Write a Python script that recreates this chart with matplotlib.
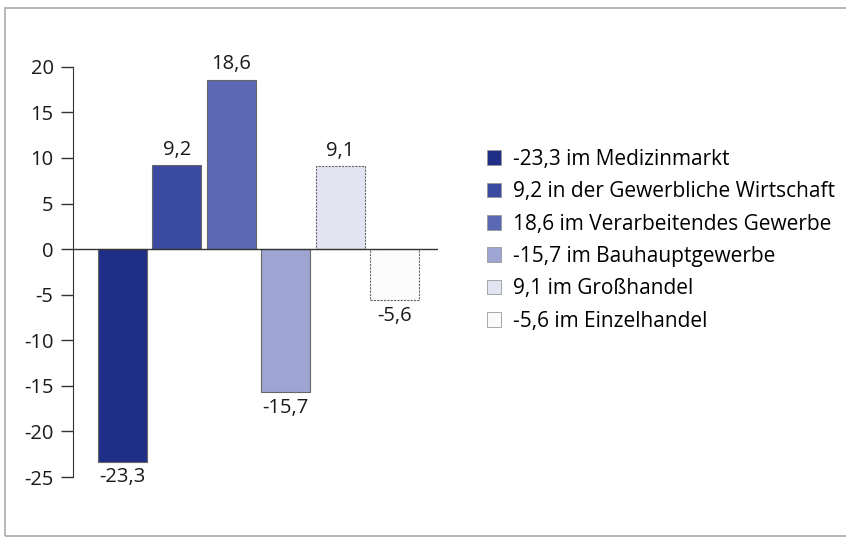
import matplotlib.pyplot as plt
from matplotlib.patches import Rectangle

plt.rcParams['font.family'] = ['Open Sans', 'DejaVu Sans']

werte = [-23.3, 9.2, 18.6, -15.7, 9.1, -5.6]
labels = ["-23,3", "9,2", "18,6", "-15,7", "9,1", "-5,6"]
legende = ["-23,3 im Medizinmarkt",
           "9,2 in der Gewerbliche Wirtschaft",
           "18,6 im Verarbeitendes Gewerbe",
           "-15,7 im Bauhauptgewerbe",
           "9,1 im Großhandel",
           "-5,6 im Einzelhandel"]
farben = ["#1f2f88", "#3a4aa0", "#5b68b3", "#9ea5d3", "#e2e4f1", "#fbfbfb"]
yticks = [20, 15, 10, 5, 0, -5, -10, -15, -20, -25]

fig = plt.figure(figsize=(8.46, 5.39), dpi=100)
ax = fig.add_axes([0.0863, 0.115, 0.432, 0.761])

# frame of the scanned page
fig.patches.append(Rectangle((0.006, 0.005), 1.2, 0.98, transform=fig.transFigure,
                             fill=False, edgecolor="#aaaaaa", lw=1.2))

x = range(len(werte))
bars = ax.bar(x, werte, width=0.9, color=farben, edgecolor="#666666", linewidth=0.8)
for b in bars[4:]:
    b.set_linestyle((0, (2, 1)))

for i, (v, t) in enumerate(zip(werte, labels)):
    if v >= 0:
        ax.text(i, v + 0.6, t, ha="center", va="bottom", fontsize=14.5, color="#1a1a1a")
    else:
        ax.text(i, v - 0.6, t, ha="center", va="top", fontsize=14.5, color="#1a1a1a")

ax.axhline(0, color="#333333", lw=1, zorder=3)
ax.set_xlim(-0.9, 5.8)
ax.set_ylim(-25, 20)
ax.set_yticks(yticks)
ax.set_yticklabels([str(t) for t in yticks], fontsize=14.5, color="#1a1a1a")
ax.tick_params(axis="y", direction="out", length=9, width=1, color="#333333", pad=5)
ax.set_xticks([])
for s in ["top", "right", "bottom"]:
    ax.spines[s].set_visible(False)
ax.spines["left"].set_color("#333333")

handles = [Rectangle((0, 0), 1, 1, facecolor=c, edgecolor="#999999", lw=0.6) for c in farben]
fig.legend(handles, legende, loc="upper left", bbox_to_anchor=(0.553, 0.759),
           frameon=False, fontsize=15, handlelength=0.7, handleheight=0.7,
           handletextpad=0.58, labelspacing=0.55)

fig.savefig("out.png", dpi=100)
